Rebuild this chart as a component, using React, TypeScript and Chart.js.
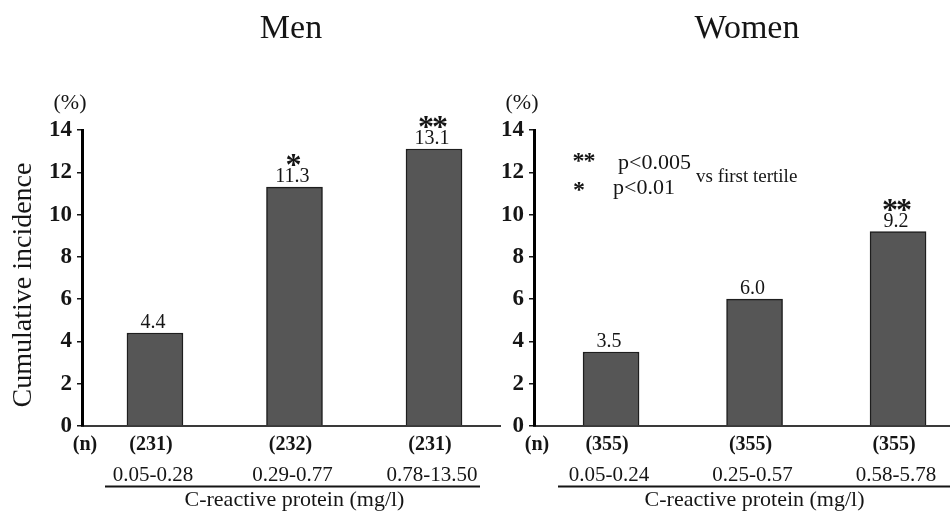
import React, { useEffect, useRef } from "react";
import { Chart, registerables } from "chart.js";

Chart.register(...registerables);

// ---- data ----
const tertilePositions = [1, 2, 3];
const menValues = [4.4, 11.3, 13.1];
const womenValues = [3.5, 6.0, 9.2];
const menCounts = ["(231)", "(232)", "(231)"];
const womenCounts = ["(355)", "(355)", "(355)"];
const menRanges = ["0.05-0.28", "0.29-0.77", "0.78-13.50"];
const womenRanges = ["0.05-0.24", "0.25-0.57", "0.58-5.78"];
const menSignificance = ["", "*", "**"];
const womenSignificance = ["", "", "**"];
const yMin = 0;
const yMax = 14;
const yStep = 2;

const SERIF = '"Liberation Serif", "Times New Roman", serif';
const INK = "#151515";

type PanelProps = {
  title: string;
  values: number[];
  counts: string[];
  ranges: string[];
  sig: string[];
  left: number;
  width: number;
  padLeft: number;
  padRight: number;
  xMin: number;
  xMax: number;
  titleX: number;
  underlineFrom: number;
  underlineTo: number;
  showYTitle: boolean;
  showLegend: boolean;
};

function drawStars(ctx: CanvasRenderingContext2D, stars: string, cx: number, cy: number, gap: number) {
  const n = stars.length;
  for (let k = 0; k < n; k++) {
    const px = cx + (k - (n - 1) / 2) * gap;
    ctx.fillText("*", px, cy);
  }
}

function Panel(p: PanelProps) {
  const ref = useRef<HTMLCanvasElement | null>(null);

  useEffect(() => {
    if (!ref.current) return;

    const textPlugin = {
      id: "panelText",
      afterDraw(chart: any) {
        const { ctx, chartArea: a, scales } = chart;
        const x = scales.x;
        const y = scales.y;
        ctx.save();
        ctx.fillStyle = INK;
        ctx.strokeStyle = INK;

        // title
        ctx.font = `34px ${SERIF}`;
        ctx.textAlign = "center";
        ctx.textBaseline = "alphabetic";
        ctx.fillText(p.title, p.titleX, 38);

        // (%) unit
        ctx.font = `22px ${SERIF}`;
        ctx.textBaseline = "middle";
        ctx.fillText("(%)", a.left - 12, a.top - 27);

        // y title
        if (p.showYTitle) {
          ctx.save();
          ctx.translate(24, a.top + 155);
          ctx.rotate(-Math.PI / 2);
          ctx.font = `28px ${SERIF}`;
          ctx.textAlign = "center";
          ctx.textBaseline = "middle";
          ctx.fillText("Cumulative incidence", 0, 0);
          ctx.restore();
        }

        // value labels and significance marks
        p.values.forEach((v, i) => {
          const cx = x.getPixelForValue(tertilePositions[i]);
          const top = y.getPixelForValue(v);
          ctx.font = `20px ${SERIF}`;
          ctx.textAlign = "center";
          ctx.textBaseline = "middle";
          ctx.fillText(v.toFixed(1), cx - 2, top - 10);
          if (p.sig[i]) {
            ctx.font = `bold 32px ${SERIF}`;
            drawStars(ctx, p.sig[i], cx - 1, top - 20, 14);
          }
        });

        // (n) row
        ctx.font = `bold 20px ${SERIF}`;
        ctx.textAlign = "center";
        ctx.textBaseline = "middle";
        ctx.fillText("(n)", a.left + 3, a.bottom + 19);
        p.counts.forEach((c, i) => {
          const cx = x.getPixelForValue(tertilePositions[i]);
          ctx.fillText(c, cx - 4, a.bottom + 19);
        });

        // range labels
        ctx.font = `21px ${SERIF}`;
        p.ranges.forEach((r, i) => {
          const cx = x.getPixelForValue(tertilePositions[i]);
          ctx.fillText(r, cx - 2, a.bottom + 49);
        });

        // underline
        ctx.lineWidth = 1.8;
        ctx.beginPath();
        ctx.moveTo(p.underlineFrom, a.bottom + 60.5);
        ctx.lineTo(p.underlineTo, a.bottom + 60.5);
        ctx.stroke();

        // axis caption
        ctx.font = `22px ${SERIF}`;
        const mid = x.getPixelForValue(tertilePositions[1]);
        ctx.fillText("C-reactive protein (mg/l)", mid, a.bottom + 74);

        // significance legend
        if (p.showLegend) {
          ctx.textAlign = "center";
          ctx.textBaseline = "middle";
          ctx.font = `bold 24px ${SERIF}`;
          drawStars(ctx, "**", a.left + 50, a.top + 32, 11);
          drawStars(ctx, "*", a.left + 45, a.top + 61, 11);
          ctx.textAlign = "left";
          ctx.font = `22px ${SERIF}`;
          ctx.fillText("p<0.005", a.left + 84, a.top + 33);
          ctx.fillText("p<0.01", a.left + 79, a.top + 58);
          ctx.font = `19px ${SERIF}`;
          ctx.fillText("vs first tertile", a.left + 162, a.top + 47);
        }

        ctx.restore();
      },
    };

    const chart = new Chart(ref.current, {
      type: "bar",
      data: {
        datasets: [
          {
            data: p.values.map((v, i) => ({ x: tertilePositions[i], y: v })),
            backgroundColor: "#565656",
            borderColor: "#1e1e1e",
            borderWidth: 1.5,
            barThickness: 56,
          },
        ],
      },
      options: {
        responsive: false,
        animation: false,
        devicePixelRatio: 1,
        layout: {
          padding: { left: p.padLeft, right: p.padRight, top: 130, bottom: 90 },
        },
        plugins: {
          legend: { display: false },
          tooltip: { enabled: false },
          title: { display: false },
        },
        scales: {
          x: {
            type: "linear",
            min: p.xMin,
            max: p.xMax,
            offset: false,
            ticks: { display: false },
            grid: { display: false },
            border: { display: true, color: "#3a3a3a", width: 2 },
            afterFit: (s: any) => {
              s.height = 0;
            },
          },
          y: {
            min: yMin,
            max: yMax,
            ticks: {
              stepSize: yStep,
              color: INK,
              padding: 5,
              font: { family: SERIF, size: 23, weight: "bold" },
            },
            grid: {
              display: true,
              drawOnChartArea: false,
              drawTicks: true,
              tickLength: 5,
              tickColor: INK,
              lineWidth: 1.5,
            },
            border: { display: true, color: "#000", width: 3 },
            afterFit: (s: any) => {
              s.width = 52;
            },
          },
        },
      },
      plugins: [textPlugin],
    } as any);

    return () => chart.destroy();
  }, []);

  return (
    <canvas
      ref={ref}
      width={p.width}
      height={516}
      style={{ position: "absolute", left: p.left, top: 0, width: p.width, height: 516 }}
    />
  );
}

export default function App() {
  useEffect(() => {
    document.body.style.margin = "0";
  }, []);
  return (
    <div style={{ position: "absolute", left: 0, top: 0, width: 950, height: 516, background: "#fff", overflow: "hidden" }}>
      <Panel
        title="Men"
        values={menValues}
        counts={menCounts}
        ranges={menRanges}
        sig={menSignificance}
        left={0}
        width={510}
        padLeft={30}
        padRight={10}
        xMin={0.477}
        xMax={3.473}
        titleX={291}
        underlineFrom={105}
        underlineTo={480}
        showYTitle={true}
        showLegend={false}
      />
      <Panel
        title="Women"
        values={womenValues}
        counts={womenCounts}
        ranges={womenRanges}
        sig={womenSignificance}
        left={480}
        width={470}
        padLeft={2}
        padRight={0}
        xMin={0.463}
        xMax={3.362}
        titleX={267}
        underlineFrom={78}
        underlineTo={470}
        showYTitle={false}
        showLegend={true}
      />
    </div>
  );
}
